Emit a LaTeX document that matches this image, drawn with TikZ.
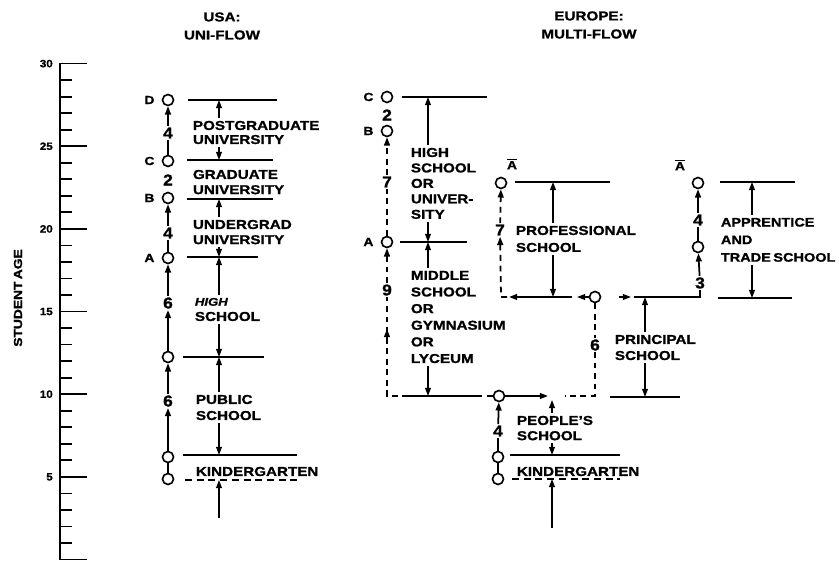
\documentclass[tikz,border=0pt]{standalone}
\usepackage{fontspec}
\usetikzlibrary{arrows.meta, positioning}
\newfontfamily\lblfont{Liberation Sans}[FakeStretch=1.18, FakeBold=1.2, WordSpace=0.6]
\newfontfamily\numfont{Liberation Sans}[FakeStretch=1.1, FakeBold=1.2]

\begin{document}
\begin{tikzpicture}[
    x=0.03cm, y=-0.03cm,
    stopc/.style={circle, draw, line width=1.4pt, fill=white, inner sep=0pt, minimum size=3.3mm},
    tag/.style={font=\lblfont\bfseries\fontsize{10}{11}\selectfont, inner sep=0pt},
    num/.style={font=\numfont\bfseries\fontsize{13.5}{13.5}\selectfont, inner sep=1pt},
    school/.style={font=\lblfont\bfseries\fontsize{11}{13}\selectfont, align=left, anchor=north west, inner sep=0pt, outer sep=2.5pt},
    hdr/.style={font=\lblfont\bfseries\fontsize{11}{15.4}\selectfont, align=center},
    bar/.style={line width=1.5pt},
    dbar/.style={bar, dash pattern=on 6pt off 4pt},
    flow/.style={line width=1.5pt},
    dflow/.style={flow, dash pattern=on 5pt off 4pt},
    arr/.style={-{Triangle[length=7pt,width=5pt]}},
    span/.style={line width=1.2pt, arr}
  ]
  \useasboundingbox (0,0) rectangle (839,565);

  % age scale
  \draw[bar] (60,63) -- (60,560);
  \foreach \a in {0,...,30}
    \draw[bar] (60,{559.5-16.53*\a}) -- ++(12,0);
  \foreach \a in {0,5,...,30}
    \draw[bar] (60,{559.5-16.53*\a}) -- ++(27,0);
  \foreach \a in {5,10,...,30}
    \node[tag, anchor=east, font=\numfont\bfseries\fontsize{9}{9}\selectfont] at (53,{559.5-16.53*\a}) {\a};
  \node[tag, rotate=90, font=\lblfont\bfseries\fontsize{10}{10}\selectfont] (agelbl) at (18,298) {STUDENT AGE};

  % headings
  \node[hdr] (usa) at (222,26) {USA:\\UNI-FLOW};
  \node[hdr] (eur) at (589,25) {EUROPE:\\MULTI-FLOW};

  % USA uni-flow
  \node[stopc] (uD) at (168,100) {};
  \node[stopc] (uC) at (168,161) {};
  \node[stopc] (uB) at (168,198) {};
  \node[stopc] (uA) at (168,258) {};
  \node[stopc] (uH) at (168,357) {};
  \node[stopc] (uP) at (168,457) {};
  \node[stopc] (uK) at (168,479) {};
  \node[tag, left=6pt of uD] (tD) {D};
  \node[tag, left=6pt of uC] (tC) {C};
  \node[tag, left=6pt of uB] (tB) {B};
  \node[tag, left=6pt of uA] (tA) {A};

  \node[num] (u4a) at (168,133) {4};
  \node[num] (u2) at (168,180) {2};
  \node[num] (u4b) at (168,233) {4};
  \node[num] (u6a) at (168,303) {6};
  \node[num] (u6b) at (168,401) {6};

  \draw[flow] (uC) -- (u4a);
  \draw[flow, arr] (u4a) -- (uD);
  \draw[flow] (uA) -- (u4b);
  \draw[flow, arr] (u4b) -- (uB);
  \draw[flow, arr] (u6a) -- (uA);
  \draw[flow, arr] (uH) -- (u6a);
  \draw[flow, arr] (u6b) -- (uH);
  \draw[flow, arr] (uP) -- (u6b);
  \draw[flow] (uP) -- (uK);

  \coordinate (uDl) at (219,100);
  \coordinate (uCl) at (219,160);
  \coordinate (uBl) at (219,199);
  \coordinate (uAl) at (219,257);
  \coordinate (uHl) at (219,357);
  \coordinate (uPl) at (219,455);
  \coordinate (uKl) at (219,480);
  \coordinate (uIn) at (219,518);
  \draw[bar] (uDl) +(-31,0) -- +(58,0);
  \draw[bar] (uCl) +(-32,0) -- +(54,0);
  \draw[bar] (uBl) +(-32,0) -- +(54,0);
  \draw[bar] (uAl) +(-32,0) -- +(39,0);
  \draw[bar] (uHl) +(-36,0) -- +(45,0);
  \draw[bar] (uPl) +(-36,0) -- +(78,0);
  \draw[dbar] (uKl) +(-34,0) -- +(78,0);

  \node[school, font=\lblfont\bfseries\fontsize{11}{12}\selectfont] (sPG) at (190,118) {POSTGRADUATE\\UNIVERSITY};
  \node[school] (sGR) at (190,167) {GRADUATE\\UNIVERSITY};
  \node[school] (sUG) at (190,217) {UNDERGRAD\\UNIVERSITY};
  \node[school] (sHS) at (192,295) {{\fontsize{9.5}{13}\selectfont\itshape HIGH}\\SCHOOL};
  \node[school, font=\lblfont\bfseries\fontsize{11}{13.7}\selectfont] (sPS) at (193,392) {PUBLIC\\SCHOOL};
  \node[school] (sKG) at (193,464) {KINDERGARTEN};

  \draw[span] (sPG.north -| uDl) -- (uDl);
  \draw[span] (sPG.south -| uCl) -- (uCl);
  \draw[span] (sUG.north -| uBl) -- (uBl);
  \draw[span] (sUG.south -| uAl) -- (uAl);
  \draw[span] (sHS.north -| uAl) -- (uAl);
  \draw[span] (sHS.south -| uHl) -- (uHl);
  \draw[span] (sPS.north -| uHl) -- (uHl);
  \draw[span] (sPS.south -| uPl) -- (uPl);
  \draw[span] (uIn) -- (uKl);

  % Europe multi-flow: gymnasium line
  \node[stopc] (eC) at (387,97) {};
  \node[stopc] (eB) at (387,131) {};
  \node[stopc] (eA) at (387,242) {};
  \node[tag, left=6pt of eC] (tEC) {C};
  \node[tag, left=6pt of eB] (tEB) {B};
  \node[tag, left=6pt of eA] (tEA) {A};
  \node[num] (e2) at (387,115) {2};
  \node[num] (e7) at (387,182) {7};
  \node[num] (e9) at (387,290) {9};
  \coordinate (eL) at (387,396);
  \coordinate (eMid) at (387,329);

  \draw[dflow, arr] (e7) -- (eB);
  \draw[dflow] (eA) -- (e7);
  \draw[dflow, arr] (e9) -- (eA);

  \coordinate (eCl) at (428,97);
  \coordinate (eAl) at (428,242);
  \coordinate (eLl) at (428,396);
  \draw[bar] (eCl) +(-26,0) -- +(59,0);
  \draw[bar] (eAl) +(-28,0) -- +(39,0);

  \node[school, font=\lblfont\bfseries\fontsize{11}{13.2}\selectfont] (sHU) at (408,145) {HIGH\\SCHOOL\\OR\\UNIVER-\\SITY};
  \node[school, font=\lblfont\bfseries\fontsize{11}{14.2}\selectfont] (sMS) at (408,268) {MIDDLE\\SCHOOL\\OR\\GYMNASIUM\\OR\\LYCEUM};
  \draw[span] (sHU.north -| eCl) -- (eCl);
  \draw[span] (sHU.south -| eAl) -- (eAl);
  \draw[span] (sMS.north -| eAl) -- (eAl);
  \draw[span] (sMS.south -| eLl) -- (eLl);

  % people's school
  \node[stopc] (pT) at (499,396) {};
  \node[num] (p4) at (498,431) {4};
  \node[stopc] (pM) at (498,457) {};
  \node[stopc] (pK) at (498,479) {};
  \draw[flow, arr] (p4) -- (pT);
  \draw[flow] (pM) -- (p4);
  \draw[flow] (pK) -- (pM);
  \draw[dflow] (pT) -| (e9);
  \draw[flow, arr] (eMid) ++(0,9) -- (eMid);
  \draw[bar] (eLl) +(-23,0) -- +(52,0);

  \coordinate (pOut) at (548,396);
  \coordinate (pGap) at (552,400);
  \coordinate (pKl) at (552,455);
  \coordinate (pDl) at (552,479);
  \coordinate (pIn) at (552,528);
  \draw[flow, arr] (pT) -- (pOut);
  \draw[bar] (pKl) +(-42,0) -- +(68,0);
  \draw[dbar] (pDl) +(-40,0) -- +(68,0);
  \node[school] (sPP) at (514,413) {PEOPLE’S\\SCHOOL};
  \node[school] (sPK) at (514,464) {KINDERGARTEN};
  \draw[span] (sPP.north -| pGap) -- (pGap);
  \draw[span] (sPP.south -| pKl) -- (pKl);
  \draw[span] (pIn) -- (pDl);

  % professional school
  \node[stopc] (fA) at (501,183) {};
  \node[tag] (tFA) at (512,164) {$\overline{\mbox{A}}$};
  \node[num] (f7) at (500,230) {7};
  \coordinate (fL) at (501,297);
  \draw[dflow, arr] (f7) -- (fA);
  \draw[dflow, arr] (fL) ++(6,0) -- (fL) -- (f7);
  \coordinate (fAl) at (553,182);
  \coordinate (fBl) at (553,297);
  \draw[bar] (fAl) +(-38,0) -- +(57,0);
  \draw[bar, arr] (fBl) +(19,0) -- +(-44,0);
  \node[school, font=\lblfont\bfseries\fontsize{11}{14.5}\selectfont] (sPF) at (513,223) {PROFESSIONAL\\SCHOOL};
  \draw[span] (sPF.north -| fAl) -- (fAl);
  \draw[span] (sPF.south -| fBl) -- (fBl);

  % principal school
  \node[stopc] (rC) at (595,297) {};
  \node[num] (r6) at (595,345) {6};
  \coordinate (rL) at (595,396);
  \coordinate (rOut) at (577,297);
  \coordinate (rIn) at (631,297);
  \draw[span] (rC) -- (rOut);
  \draw[span] (rIn) ++(-12,0) -- (rIn);
  \draw[dflow] (rC) -- (r6) -- (rL) -- ++(-30,0);

  % apprentice and trade school
  \node[stopc] (aA) at (698,183) {};
  \node[tag] (tAA) at (680,165) {$\overline{\mbox{A}}$};
  \node[num] (a4) at (698,220) {4};
  \node[stopc] (aM) at (698,247) {};
  \node[num] (a3) at (700,283) {3};
  \draw[flow, arr] (a4) -- (aA);
  \draw[flow] (aM) -- (a4);
  \draw[flow, arr] (a3) -- (aM);

  \coordinate (rTl) at (645,297);
  \coordinate (rBl) at (645,397);
  \draw[flow] (rTl) ++(-11,0) -| (a3);
  \draw[bar] (rBl) +(-35,0) -- +(35,0);
  \node[school, font=\lblfont\bfseries\fontsize{11}{13.7}\selectfont] (sPR) at (612,332) {PRINCIPAL\\SCHOOL};
  \draw[span] (sPR.north -| rTl) -- (rTl);
  \draw[span] (sPR.south -| rBl) -- (rBl);

  \coordinate (aTl) at (752,182);
  \coordinate (aBl) at (752,298);
  \draw[bar] (aTl) +(-32,0) -- +(43,0);
  \draw[bar] (aBl) +(-34,0) -- +(40,0);
  \node[school, font=\lblfont\bfseries\fontsize{10.5}{15}\selectfont] (sAP) at (718,215) {APPRENTICE\\AND\\TRADE SCHOOL};
  \draw[span] (sAP.north -| aTl) -- (aTl);
  \draw[span] (sAP.south -| aBl) -- (aBl);
\end{tikzpicture}
\end{document}
